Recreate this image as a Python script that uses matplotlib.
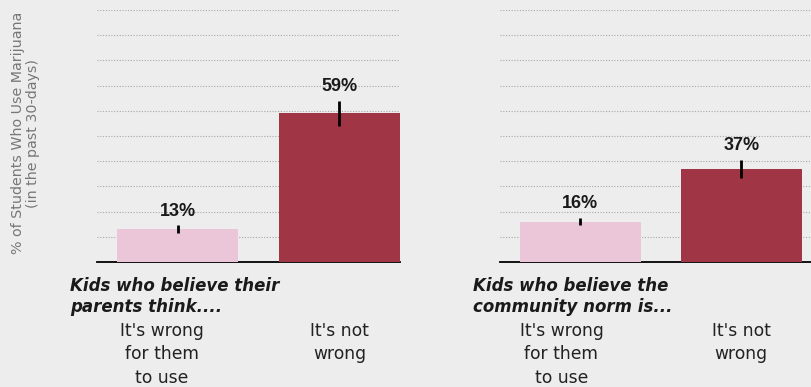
import matplotlib.pyplot as plt
import matplotlib.transforms as mtransforms

# data
categories = ["It's wrong\nfor them\nto use", "It's not\nwrong"]
parents_vals = [13, 59]
parents_err = [1.5, 5]
community_vals = [16, 37]
community_err = [1.5, 3.5]
group_titles = ["Kids who believe their\nparents think....",
                "Kids who believe the\ncommunity norm is..."]

bg = '#ededed'
colors = ['#ebc5d8', '#a03545']

fig = plt.figure(figsize=(8.12, 3.87), dpi=100, facecolor=bg)

W, H = 812, 387
base = 262
ax1 = fig.add_axes([97 / W, 1 - base / H, 303 / W, 252 / H])
ax2 = fig.add_axes([500 / W, 1 - base / H, 312 / W, 252 / H])


def draw(ax, vals, errs, xmax, shift):
    x = range(len(vals))
    ax.set_facecolor(bg)
    ax.bar(x, vals, width=0.75, color=colors, yerr=errs, zorder=3,
           error_kw=dict(ecolor='black', elinewidth=2, capsize=0, zorder=4))
    for xi, v, e in zip(x, vals, errs):
        ax.annotate(f"{v}%", (xi, v + e), xytext=(0, 4), textcoords='offset points',
                    ha='center', va='bottom', fontsize=13, fontweight='bold',
                    family='Liberation Sans', color='#1a1a1a', zorder=5)
    ax.set_xlim(-0.5, xmax)
    ax.set_ylim(0, 100)
    ax.set_yticks(range(10, 101, 10))
    ax.set_yticklabels([])
    ax.grid(axis='y', linestyle=(0, (1, 1.5)), color='#a8a8a8', linewidth=0.8, zorder=0)
    ax.tick_params(axis='y', length=0)
    ax.set_xticks(list(x))
    ax.set_xticklabels(categories, fontsize=12.3, color='#222222', linespacing=1.4)
    ax.tick_params(axis='x', length=0, pad=43)
    for lab in ax.get_xticklabels():
        lab.set_verticalalignment('top')
    lab0 = ax.get_xticklabels()[0]
    lab0.set_transform(lab0.get_transform() +
                       mtransforms.ScaledTranslation(shift / 100, 0, fig.dpi_scale_trans))
    for s in ['top', 'right', 'left']:
        ax.spines[s].set_visible(False)
    ax.spines['bottom'].set_color('black')
    ax.spines['bottom'].set_linewidth(1.3)


draw(ax1, parents_vals, parents_err, 1.375, -16)
draw(ax2, community_vals, community_err, 1.44, -19)

fig.text(70 / W, 1 - 277 / H, group_titles[0], fontsize=12, fontweight='bold',
         style='italic', color='#1a1a1a', va='top', ha='left')
fig.text(473 / W, 1 - 277 / H, group_titles[1], fontsize=12, fontweight='bold',
         style='italic', color='#1a1a1a', va='top', ha='left')

fig.text(25.5 / W, 1 - 133 / H,
         "% of Students Who Use Marijuana\n(in the past 30-days)",
         rotation=90, ha='center', va='center', fontsize=10.3,
         color='#777777', linespacing=1.05, multialignment='center')

fig.savefig('out.png', dpi=100, facecolor=bg)
